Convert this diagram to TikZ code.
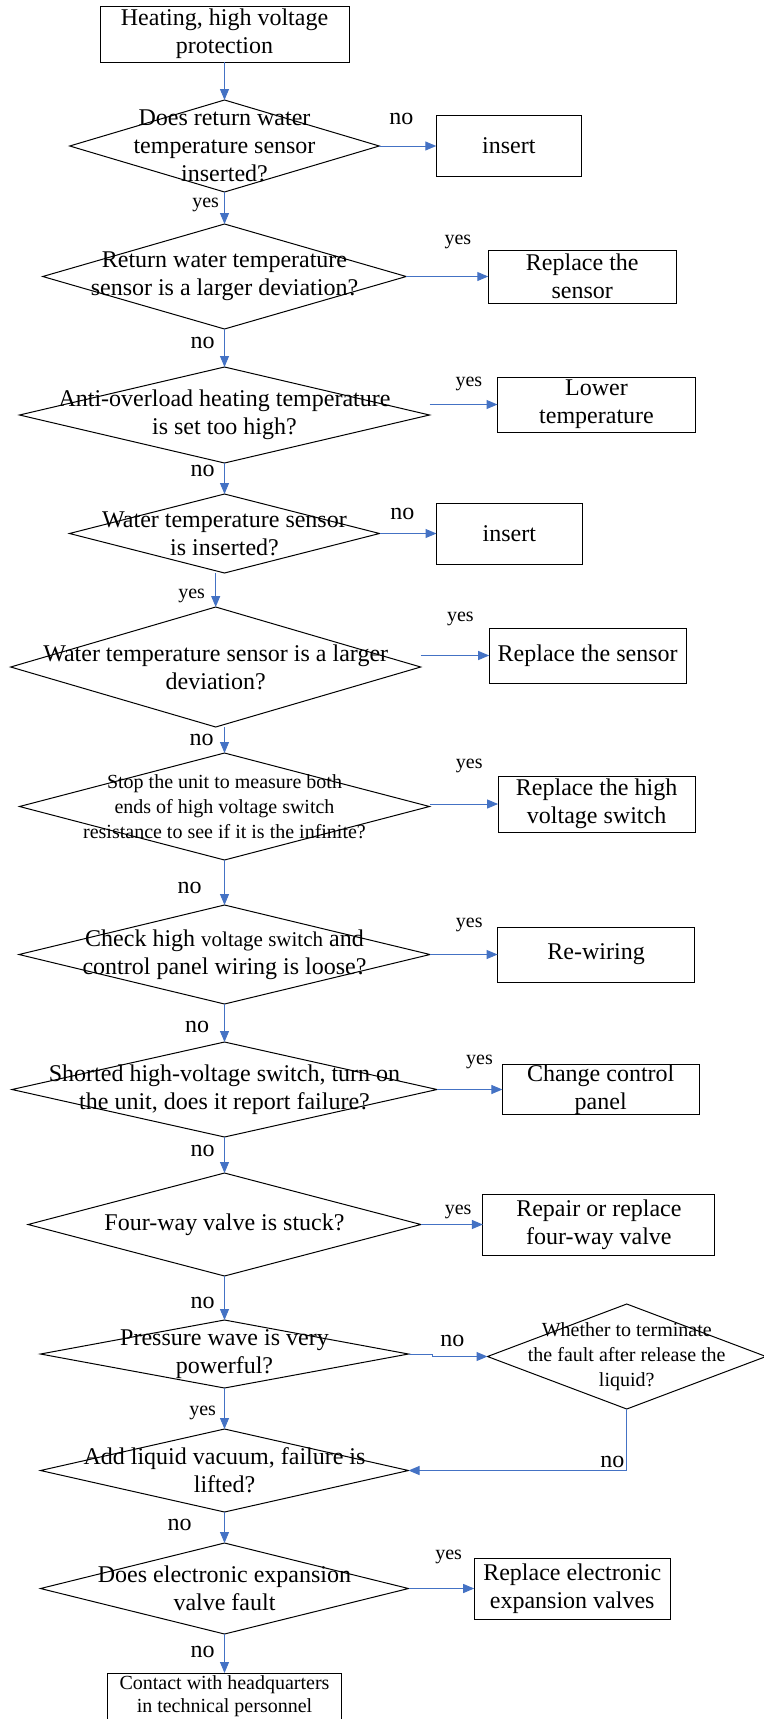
\documentclass[tikz,border=0pt]{standalone}
\usepackage{fontspec}
\setmainfont{Liberation Serif}
\usetikzlibrary{positioning,shapes.geometric,arrows.meta}
\definecolor{linkblue}{HTML}{4472C4}

\begin{document}
\begin{tikzpicture}[
    box/.style={draw, rectangle, inner sep=0pt, outer sep=0pt, line width=0.5pt, align=center, font=\fontsize{12}{14}\selectfont},
    dia/.style={draw, diamond, inner sep=0pt, outer sep=0pt, line width=0.5pt},
    txt/.style={align=center, inner sep=0pt, font=\fontsize{12}{14}\selectfont},
    small/.style={align=center, inner sep=0pt, font=\fontsize{10}{12.5}\selectfont},
    arrow/.style={->, >={Triangle[length=5.5pt,width=4.5pt]}, draw=linkblue, line width=0.5pt},
    nolab/.style={inner sep=1pt, font=\fontsize{12}{14}\selectfont},
    yeslab/.style={inner sep=1pt, font=\fontsize{10}{12}\selectfont}
  ]
  \useasboundingbox (0,0) rectangle (382pt,-859.5pt);

  % main column
  \node[box, minimum width=124.5pt, minimum height=28pt] (start) at (112.25pt,-17pt) {Heating, high voltage\\protection};
  \node[dia, minimum width=154.75pt, minimum height=46pt, below=19pt of start,
        label={[txt]center:{Does return water\\temperature sensor\\inserted?}}] (d1) {};
  \node[dia, minimum width=181.75pt, minimum height=52.5pt, below=16pt of d1,
        label={[txt]center:{Return water temperature\\sensor is a larger deviation?}}] (d2) {};
  \node[dia, minimum width=205pt, minimum height=48pt, below=19pt of d2,
        label={[txt]center:{Anti-overload heating temperature\\is set too high?}}] (d3) {};
  \node[dia, minimum width=155pt, minimum height=39.5pt, below=15.5pt of d3,
        label={[txt]center:{Water temperature sensor\\is inserted?}}] (d4) {};
  \node[dia, minimum width=205pt, minimum height=60pt, below=17pt of d4, xshift=-4.4pt,
        label={[txt]center:{Water temperature sensor is a larger\\deviation?}}] (d5) {};
  \node[dia, minimum width=205pt, minimum height=53.5pt, below=13pt of d5, xshift=4.4pt,
        label={[small]center:{Stop the unit to measure both\\ends of high voltage switch\\resistance to see if it is the infinite?}}] (d6) {};
  \node[dia, minimum width=205.5pt, minimum height=49.5pt, below=22.5pt of d6,
        label={[txt]center:{Check high {\fontsize{10.5}{14}\selectfont voltage switch} and\\control panel wiring is loose?}}] (d7) {};
  \node[dia, minimum width=212.5pt, minimum height=47.5pt, below=19pt of d7,
        label={[txt]center:{Shorted high-voltage switch, turn on\\the unit, does it report failure?}}] (d8) {};
  \node[dia, minimum width=196.4pt, minimum height=51.5pt, below=18pt of d8,
        label={[txt]center:{Four-way valve is stuck?}}] (d9) {};
  \node[dia, minimum width=184pt, minimum height=34pt, below=22pt of d9,
        label={[txt]center:{Pressure wave is very\\powerful?}}] (d10) {};
  \node[dia, minimum width=184pt, minimum height=41.5pt, below=20.5pt of d10,
        label={[txt]center:{Add liquid vacuum, failure is\\lifted?}}] (d12) {};
  \node[dia, minimum width=184pt, minimum height=45.5pt, below=15.5pt of d12,
        label={[txt]center:{Does electronic expansion\\valve fault}}] (d13) {};
  \node[box, minimum width=117.25pt, inner ysep=1.5pt, font=\fontsize{10}{11.5}\selectfont, below=19.5pt of d13] (contact) {Contact with headquarters\\in technical personnel};

  % side column
  \node[box, minimum width=72.5pt, minimum height=30.5pt, right=28.5pt of d1] (ins1) {insert};
  \node[box, minimum width=94pt, minimum height=26.5pt, right=41pt of d2] (rep1) {Replace the\\sensor};
  \node[box, minimum width=99pt, minimum height=27.5pt, right=34pt of d3, yshift=5.25pt] (lower) {Lower\\temperature};
  \node[box, minimum width=72.75pt, minimum height=30.5pt, right=28.5pt of d4] (ins2) {insert};
  \node[box, minimum width=98.5pt, minimum height=27.5pt, right=34.25pt of d5, yshift=5.75pt] (rep2) {Replace the sensor};
  \node[box, minimum width=98.5pt, minimum height=28pt, right=34.3pt of d6, yshift=1.25pt] (rephv) {Replace the high\\voltage switch};
  \node[box, minimum width=98.5pt, minimum height=27.5pt, right=33.8pt of d7] (rewire) {Re-wiring};
  \node[box, minimum width=98.3pt, minimum height=24pt, right=32.7pt of d8] (change) {Change control\\panel};
  \node[box, minimum width=116pt, minimum height=30.5pt, right=31pt of d9] (repair) {Repair or replace\\four-way valve};
  \node[dia, minimum width=139.25pt, minimum height=52.5pt, right=39.5pt of d10, yshift=-1.25pt,
        label={[small]center:{Whether to terminate\\the fault after release the\\liquid?}}] (d11) {};
  \node[box, minimum width=98pt, minimum height=30.5pt, right=32.85pt of d13] (repexp) {Replace electronic\\expansion valves};

  % down the column
  \draw[arrow] (start.south) -- (d1.north);
  \draw[arrow] (d1.south) -- node[yeslab, left=1.5pt, pos=0.41] {yes} (d2.north);
  \draw[arrow] (d2.south) -- node[nolab, left=3.7pt, pos=0.37] {no} (d3.north);
  \draw[arrow] (d3.south) -- node[nolab, left=3.7pt, pos=0.26] {no} (d4.north);
  \draw[arrow] (d4.south -| d5.north) -- node[yeslab, left=4.1pt, pos=0.68] {yes} (d5.north);
  \draw[arrow] (d5.south -| d6.north) -- node[nolab, left=4.2pt, pos=0.5] {no} (d6.north);
  \draw[arrow] (d6.south) -- node[nolab, left=10.2pt, pos=0.62] {no} (d7.north);
  \draw[arrow] (d7.south) -- node[nolab, left=6.5pt, pos=0.6] {no} (d8.north);
  \draw[arrow] (d8.south) -- node[nolab, left=3.7pt, pos=0.39] {no} (d9.north);
  \draw[arrow] (d9.south) -- node[nolab, left=3.7pt, pos=0.61] {no} (d10.north);
  \draw[arrow] (d10.south) -- node[yeslab, left=3pt, pos=0.61] {yes} (d12.north);
  \draw[arrow] (d12.south) -- node[nolab, left=15.2pt, pos=0.42] {no} (d13.north);
  \draw[arrow] (d13.south) -- node[nolab, left=3.7pt, pos=0.46] {no} (contact.north);

  % out to the right
  \draw[arrow] (d1.east) -- node[nolab, above=9.25pt, pos=0.39] {no} (ins1.west);
  \draw[arrow] (d2.east) -- node[yeslab, above=12.35pt, pos=0.63] {yes} (rep1.west);
  \draw[arrow] (d3.east |- lower.west) -- node[yeslab, above=5.35pt, pos=0.58] {yes} (lower.west);
  \draw[arrow] (d4.east) -- node[nolab, above=5.5pt, pos=0.4] {no} (ins2.west);
  \draw[arrow] (d5.east |- rep2.west) -- node[yeslab, above=13.35pt, pos=0.58] {yes} (rep2.west);
  \draw[arrow] (d6.east |- rephv.west) -- node[yeslab, above=14.1pt, pos=0.58] {yes} (rephv.west);
  \draw[arrow] (d7.east) -- node[yeslab, above=10.1pt, pos=0.58] {yes} (rewire.west);
  \draw[arrow] (d8.east) -- node[yeslab, above=8.85pt, pos=0.65] {yes} (change.west);
  \draw[arrow] (d9.east) -- node[yeslab, above=1.35pt, pos=0.6] {yes} (repair.west);
  \draw[arrow] (d10.east) -- ++(12pt,0) |- node[nolab, above=3.5pt, pos=0.68] {no} (d11.west);
  \draw[arrow] (d11.south) |- node[nolab, above left=0pt, pos=0.5] {no} (d12.east);
  \draw[arrow] (d13.east) -- node[yeslab, above=11.1pt, pos=0.61] {yes} (repexp.west);
\end{tikzpicture}
\end{document}
